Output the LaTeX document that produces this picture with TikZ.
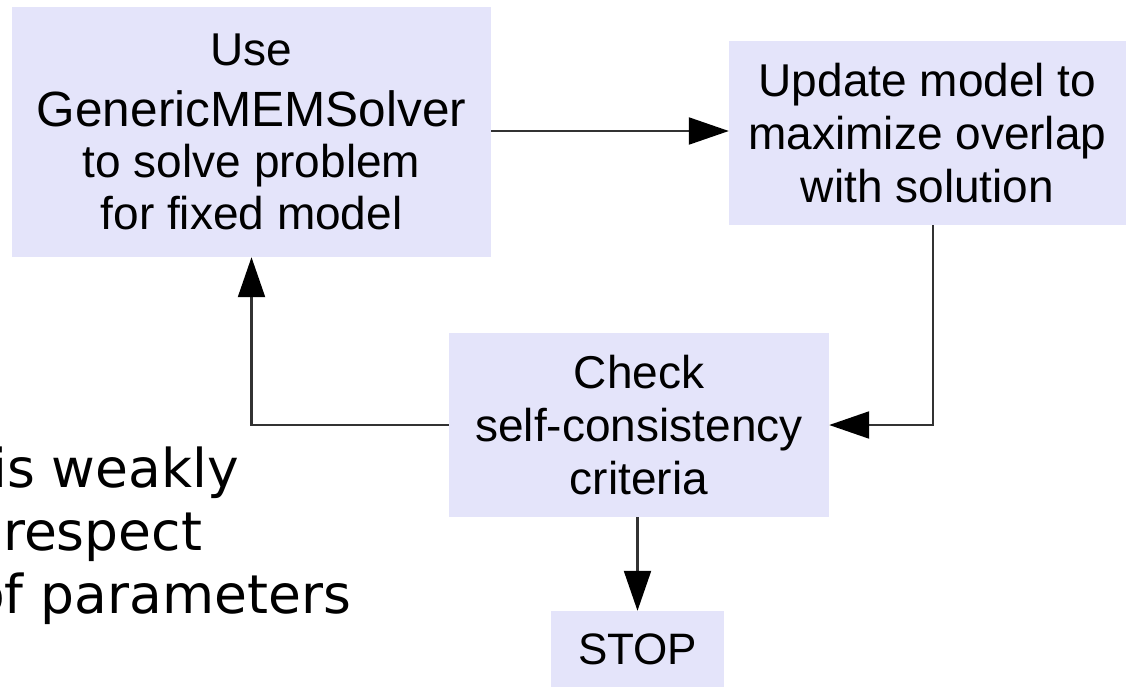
\documentclass[tikz,border=0pt]{standalone}
\usepackage{fontspec}
\setmainfont{Liberation Sans}
\newfontfamily\dejavu{DejaVu Sans}
\usetikzlibrary{arrows.meta}
\definecolor{boxfill}{RGB}{228,228,250}
\definecolor{linecol}{RGB}{50,50,50}
\tikzset{
  flowbox/.style={fill=boxfill, draw=none, inner sep=0pt, align=center,
    font=\fontsize{46}{53}\selectfont},
  arr/.style={draw=linecol, line width=2.2pt,
    -{Triangle[length=40pt,width=27pt,color=black]}},
  sidetext/.style={anchor=base west, inner sep=0pt,
    font=\dejavu\fontsize{53.5}{63}\selectfont}
}
\begin{document}
\begin{tikzpicture}[x=1pt,y=-1pt]
\useasboundingbox (0,0) rectangle (1126,686);
\clip (0,0) rectangle (1126,686);
\node[flowbox, minimum width=479pt, minimum height=250pt] (A) at (251.5,132)
  {Use\\[8pt]{\fontsize{49.5}{53}\selectfont GenericMEMSolver}\\[-2pt]to solve problem\\[-1pt]for fixed model};
\node[flowbox, minimum width=397pt, minimum height=184pt] (B) at (927.5,133)
  {Update model to\\maximize overlap\\with solution};
\node[flowbox, minimum width=380pt, minimum height=184pt] (C) at (639,425)
  {Check\\self-consistency\\criteria};
\node[flowbox, minimum width=173pt, minimum height=76pt, font=\fontsize{44}{50}\selectfont] (S) at (637.5,649)
  {STOP};
\draw[arr] (A.east |- 0,131) -- (B.west |- 0,131);
\draw[arr] ([xshift=5.5pt]B.south) |- (C.east);
\draw[arr] (C.west) -| (A.south);
\draw[arr] (C.south -| S.north) -- (S.north);
\node[sidetext] (t1) at (-8,487) {is weakly};
\node[sidetext] (t2) at (3,550) {respect};
\node[sidetext] (t3) at (-28,613) {of parameters};
\end{tikzpicture}
\end{document}
